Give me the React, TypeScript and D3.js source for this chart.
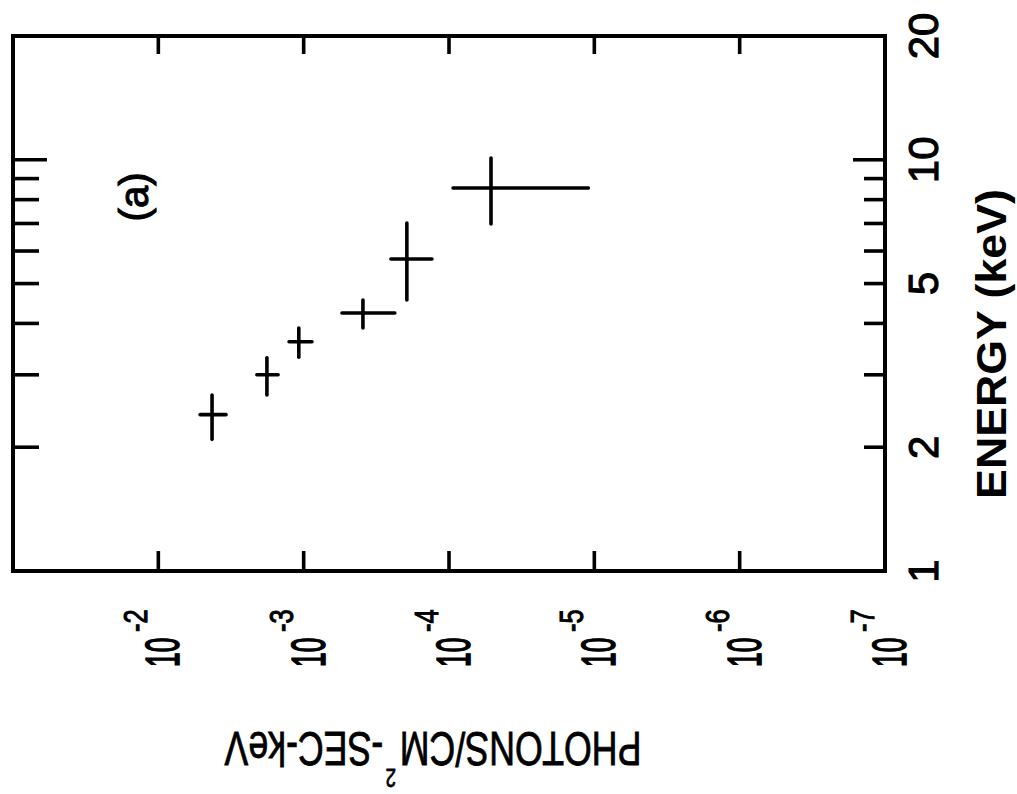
import * as d3 from "d3";
import React from "react";

// energy axis (keV), drawn vertically
const energyDomain = [1, 20];
const energyLabels = [1, 2, 5, 10, 20];
const energySideTicks = [2, 3, 4, 5, 6, 7, 8, 9, 10];
const energyMajor = [10];

// flux axis (photons/cm2-sec-keV), drawn horizontally
const fluxDomain = [1e-1, 1e-7];
const fluxLabels = [1e-2, 1e-3, 1e-4, 1e-5, 1e-6, 1e-7];
const fluxExponents = ["-2", "-3", "-4", "-5", "-6", "-7"];
const fluxSideTicks = [1e-2, 1e-3, 1e-4, 1e-5, 1e-6];

// data points: energy bins and flux with errors
const energyMid = [2.4, 3.0, 3.61, 4.24, 5.74, 8.54];
const energyLow = [2.09, 2.68, 3.31, 3.9, 4.56, 6.98];
const energyHigh = [2.68, 3.3, 3.9, 4.56, 7.02, 10.1];
const fluxMid = [4.27e-3, 1.79e-3, 1.08e-3, 3.91e-4, 1.95e-4, 5.14e-5];
const fluxHigh = [5.16e-3, 2.1e-3, 1.26e-3, 5.45e-4, 2.51e-4, 9.38e-5];
const fluxLow = [3.42e-3, 1.5e-3, 8.77e-4, 2.36e-4, 1.31e-4, 1.1e-5];

const font = "'Liberation Sans', Arial, sans-serif";

export default function App() {
  const box = { left: 13, right: 885, top: 36, bottom: 571 };
  const y = d3.scaleLog().domain(energyDomain).range([box.bottom, box.top]);
  const x = d3.scaleLog().domain(fluxDomain).range([box.left, box.right]);

  const points = energyMid.map((e, i) => ({
    e, eLo: energyLow[i], eHi: energyHigh[i],
    f: fluxMid[i], fLo: fluxLow[i], fHi: fluxHigh[i]
  }));

  const sw = 3.6;
  // a thin outline makes the lettering as heavy as the scanned one
  const ink = { fill: "#000", stroke: "#000", strokeWidth: 1.1 };

  return (
    <svg width={1017} height={794}
      style={{ position: "absolute", left: 0, top: 0, background: "#fff" }}
      fontFamily={font}>
      <rect x={0} y={0} width={1017} height={794} fill="#fff" />

      {/* frame */}
      <rect x={box.left} y={box.top} width={box.right - box.left}
        height={box.bottom - box.top} fill="none" stroke="#000"
        strokeWidth={4} />

      {/* energy ticks, left and right */}
      {energySideTicks.map(t => {
        const major = energyMajor.includes(t);
        return (
          <g key={"e" + t} stroke="#000" strokeWidth={sw}>
            <line x1={box.left} x2={box.left + (major ? 34 : 26)}
              y1={y(t)} y2={y(t)} />
            <line x1={box.right} x2={box.right - (major ? 32 : 21)}
              y1={y(t)} y2={y(t)} />
          </g>
        );
      })}

      {/* flux ticks, top and bottom */}
      {fluxSideTicks.map(t => (
        <g key={"f" + t} stroke="#000" strokeWidth={sw}>
          <line x1={x(t)} x2={x(t)} y1={box.top} y2={box.top + 18} />
          <line x1={x(t)} x2={x(t)} y1={box.bottom} y2={box.bottom - 20} />
        </g>
      ))}

      {/* energy tick labels */}
      {energyLabels.map(t => (
        <text key={"el" + t} transform={`translate(938,${y(t)}) rotate(-90)`}
          textAnchor="middle" fontSize={42} {...ink}>{t}</text>
      ))}

      {/* flux tick labels */}
      {fluxLabels.map((t, i) => (
        <g key={"fl" + t} transform={`translate(${x(t) + 21},667) rotate(-90)`}
          {...ink}>
          <g transform="scale(0.55,1)">
            <text x={0} y={0} fontSize={48} strokeWidth={1.6}>10</text>
          </g>
          <g transform="translate(35,-32) scale(0.75,1)">
            <text x={0} y={0} fontSize={34}>{fluxExponents[i]}</text>
          </g>
        </g>
      ))}

      {/* data crosses */}
      {points.map((p, i) => (
        <g key={"p" + i} stroke="#000" strokeWidth={sw} strokeLinecap="round">
          <line x1={x(p.fHi)} x2={x(p.fLo)} y1={y(p.e)} y2={y(p.e)} />
          <line x1={x(p.f)} x2={x(p.f)} y1={y(p.eHi)} y2={y(p.eLo)} />
        </g>
      ))}

      {/* panel label */}
      <text transform="translate(148,197) rotate(-90)" textAnchor="middle"
        fontSize={40} {...ink}>(a)</text>

      {/* axis titles */}
      <g transform="translate(1006,344) rotate(-90) scale(1.04,1)">
        <text textAnchor="middle" fontSize={43} fontWeight="bold">
          ENERGY (keV)
        </text>
      </g>

      <g transform="translate(434,732) rotate(180) scale(0.745,1)" {...ink}
        strokeWidth={0.8}>
        <text x={46} y={0} fontSize={48} textAnchor="end">PHOTONS/CM</text>
        <text x={51} y={-37} fontSize={25}>2</text>
        <text x={68} y={0} fontSize={48}>-SEC-keV</text>
      </g>
    </svg>
  );
}
